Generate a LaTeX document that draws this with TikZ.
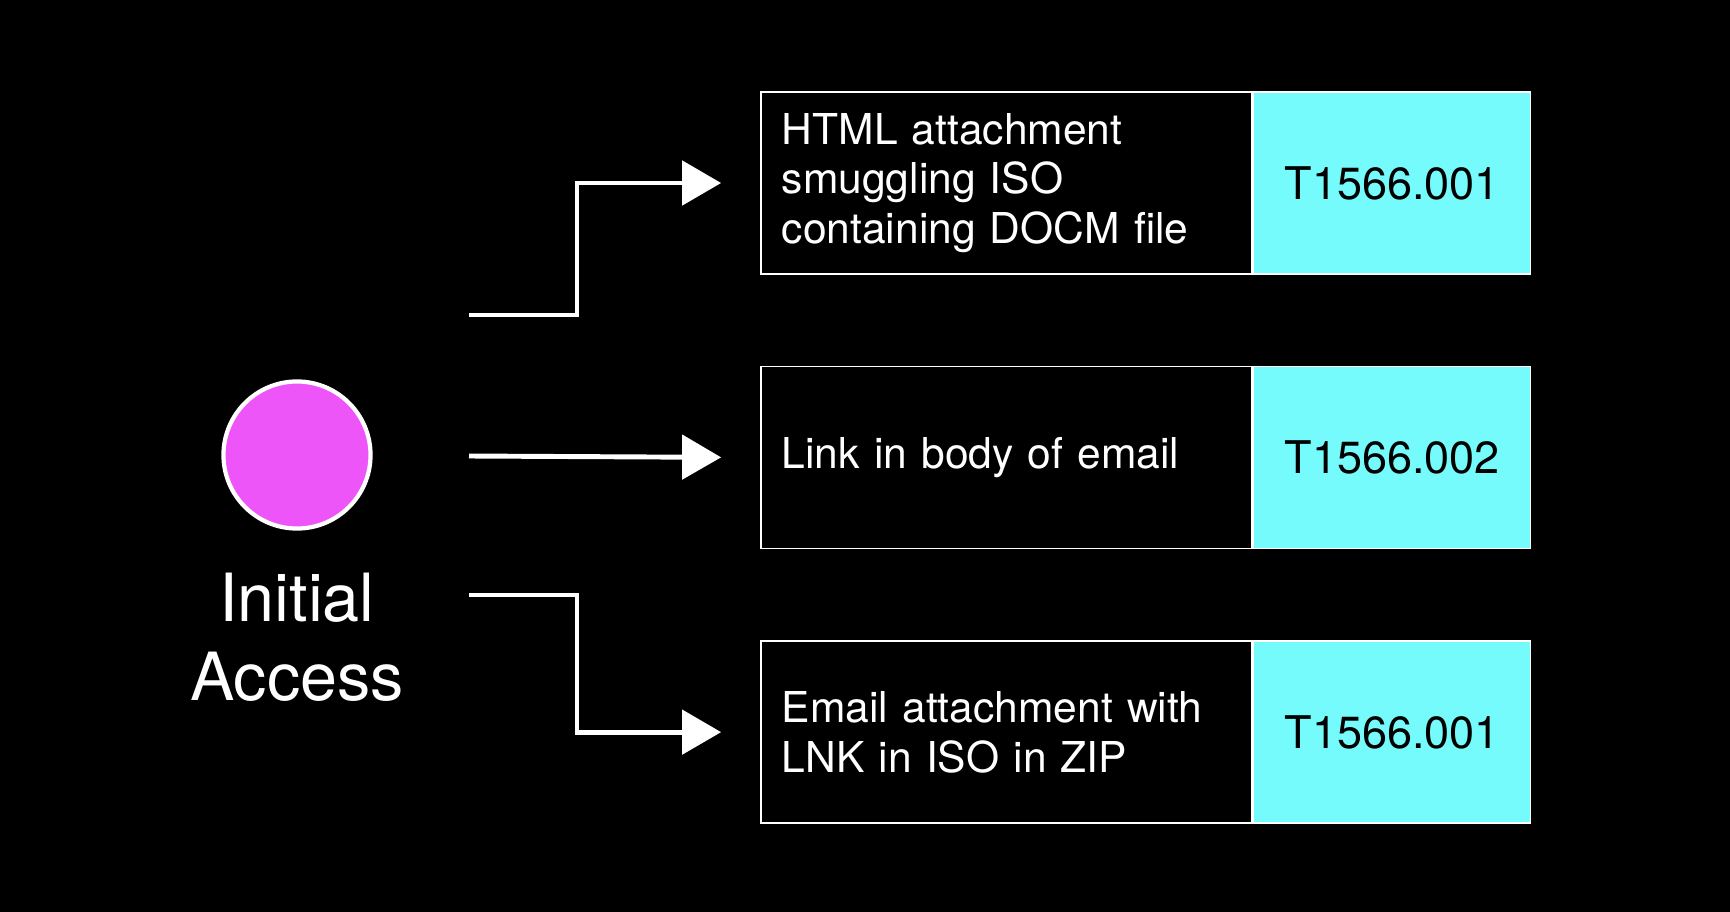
\documentclass[tikz,border=0pt]{standalone}
\usepackage{fontspec}
\setmainfont{TeX Gyre Heros}
\usetikzlibrary{positioning, arrows.meta}
\definecolor{dotpink}{HTML}{EE55F9}
\definecolor{codecyan}{HTML}{76FBFD}

\begin{document}
\begin{tikzpicture}[x=0.01cm, y=-0.01cm,
    desc/.style={rectangle, draw=white, line width=0.4pt, text=white, minimum width=4.91cm, minimum height=1.82cm, text width=4.49cm, inner xsep=0.21cm, align=left, font=\fontsize{12.1}{14.1}\selectfont},
    code/.style={rectangle, draw=white, line width=0.4pt, fill=codecyan, minimum width=2.77cm, minimum height=1.82cm, font=\fontsize{12.8}{15}\selectfont},
    flow/.style={draw=white, line width=1.4pt, line join=miter, shorten >=0.39cm, -{Triangle[length=0.39cm, width=0.44cm]}}]
    \fill[black] (0,0) rectangle (1730,912);
    \node[circle, draw=white, line width=1.2pt, fill=dotpink, minimum size=1.47cm] (dot) at (297,455) {};
    \node[text=white, align=center, font=\fontsize{18.9}{22.5}\selectfont] (lbl) at (297,637) {Initial\\Access};
    \node[desc] (d1) at (1006.5,183) {HTML attachment\\smuggling ISO\\containing DOCM file};
    \node[desc, below=0.91cm of d1] (d2) {Link in body of email};
    \node[desc, below=0.91cm of d2] (d3) {Email attachment with\\LNK in ISO in ZIP};
    \node[code, right=0pt of d1] (c1) {T1566.001};
    \node[code, right=0pt of d2] (c2) {T1566.002};
    \node[code, right=0pt of d3] (c3) {T1566.001};
    \coordinate (s1) at (469,315);
    \coordinate (s2) at (469,456);
    \coordinate (s3) at (469,595);
    \draw[flow] (s1) -- ++(108,0) |- (d1.west);
    \draw[flow] (s2) -- (d2.west);
    \draw[flow] (s3) -- ++(108,0) |- (d3.west);
\end{tikzpicture}
\end{document}
